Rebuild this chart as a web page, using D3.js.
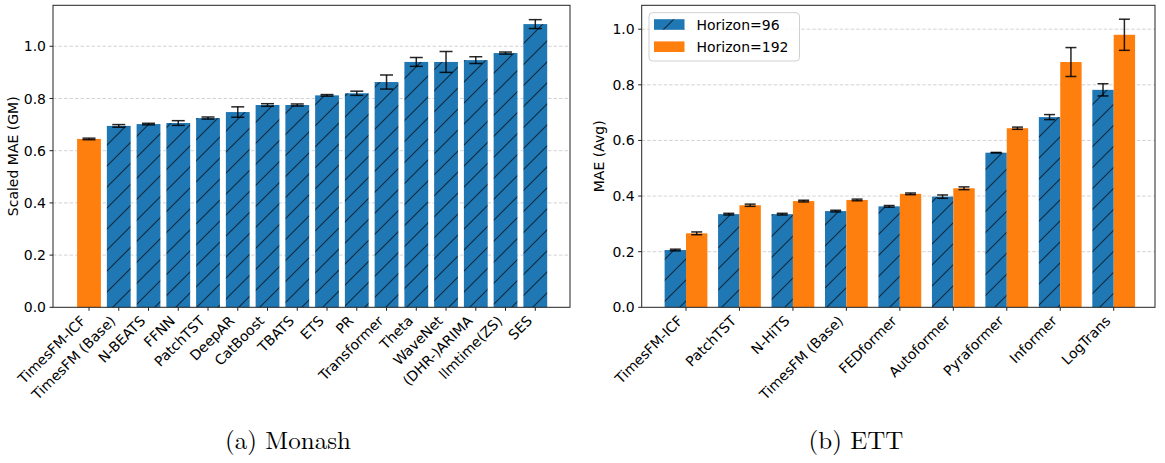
<!DOCTYPE html>
<html>
<head>
<meta charset="utf-8">
<script src="https://cdn.jsdelivr.net/npm/d3@7"></script>
<style>
  html, body { margin: 0; padding: 0; background: #fff; }
  svg { display: block; }
  text { font-family: "DejaVu Sans", sans-serif; fill: #000; }
</style>
</head>
<body>
<svg id="chart" width="1165" height="463"></svg>
<script>
// ---------- Data ----------
// (a) Monash
const monashModels = ["TimesFM-ICF", "TimesFM (Base)", "N-BEATS", "FFNN", "PatchTST", "DeepAR",
  "CatBoost", "TBATS", "ETS", "PR", "Transformer", "Theta", "WaveNet", "(DHR-)ARIMA", "llmtime(ZS)", "SES"];
const monashMAE = [0.645, 0.695, 0.702, 0.706, 0.725, 0.748, 0.775, 0.775, 0.812, 0.820, 0.863, 0.940, 0.940, 0.947, 0.974, 1.085];
const monashErr = [0.003, 0.005, 0.003, 0.009, 0.004, 0.020, 0.005, 0.004, 0.003, 0.008, 0.027, 0.017, 0.040, 0.013, 0.004, 0.017];
const monashTicks = [0.0, 0.2, 0.4, 0.6, 0.8, 1.0];

// (b) ETT
const ettModels = ["TimesFM-ICF", "PatchTST", "N-HiTS", "TimesFM (Base)", "FEDformer", "Autoformer",
  "Pyraformer", "Informer", "LogTrans"];
const ettH96 = [0.206, 0.335, 0.335, 0.346, 0.363, 0.398, 0.556, 0.684, 0.782];
const ettH96Err = [0.003, 0.003, 0.003, 0.003, 0.003, 0.006, 0.001, 0.009, 0.022];
const ettH192 = [0.266, 0.367, 0.382, 0.386, 0.408, 0.428, 0.644, 0.882, 0.980];
const ettH192Err = [0.005, 0.004, 0.003, 0.003, 0.003, 0.005, 0.004, 0.052, 0.056];
const ettTicks = [0.0, 0.2, 0.4, 0.6, 0.8, 1.0];
const seriesNames = ["Horizon=96", "Horizon=192"];

const BLUE = "#1f77b4", ORANGE = "#ff7f0e";
const FS = 14;

const svg = d3.select("#chart");
const defs = svg.append("defs");
const hatch = defs.append("pattern").attr("id", "hatch")
  .attr("patternUnits", "userSpaceOnUse").attr("width", 21).attr("height", 21);
hatch.append("rect").attr("width", 21).attr("height", 21).attr("fill", BLUE);
hatch.append("path").attr("d", "M-2,23 L23,-2 M-6,6 L6,-6 M15,27 L27,15")
  .attr("stroke", "#000").attr("stroke-opacity", 0.65).attr("stroke-width", 1.1);

function drawFrame(g, x0, x1, yScale, ticks, ylabel, ylabelX) {
  const [yb, yt] = yScale.range();
  // grid
  g.append("g").selectAll("line").data(ticks.filter(t => t > 0)).join("line")
    .attr("x1", x0).attr("x2", x1)
    .attr("y1", d => yScale(d)).attr("y2", d => yScale(d))
    .attr("stroke", "#c8c8c8").attr("stroke-width", 0.8).attr("stroke-dasharray", "3.5,2");
  // y ticks
  const yt_g = g.append("g");
  yt_g.selectAll("line").data(ticks).join("line")
    .attr("x1", x0 - 3.5).attr("x2", x0)
    .attr("y1", d => yScale(d)).attr("y2", d => yScale(d))
    .attr("stroke", "#222").attr("stroke-width", 1);
  yt_g.selectAll("text").data(ticks).join("text")
    .attr("x", x0 - 7).attr("y", d => yScale(d)).attr("dy", "0.36em")
    .attr("text-anchor", "end").attr("font-size", FS)
    .text(d => d3.format(".1f")(d));
  // y label
  g.append("text")
    .attr("transform", `translate(${ylabelX},${(yb + yt) / 2}) rotate(-90)`)
    .attr("dy", "0.36em").attr("text-anchor", "middle").attr("font-size", FS)
    .text(ylabel);
}
function drawBox(g, x0, x1, yt, yb) {
  g.append("rect").attr("x", x0).attr("y", yt).attr("width", x1 - x0).attr("height", yb - yt)
    .attr("fill", "none").attr("stroke", "#222").attr("stroke-width", 1);
}
function drawXTicks(g, labels, xScale, yb) {
  const gg = g.append("g");
  gg.selectAll("line").data(labels).join("line")
    .attr("x1", (d, i) => xScale(i)).attr("x2", (d, i) => xScale(i))
    .attr("y1", yb).attr("y2", yb + 3.5)
    .attr("stroke", "#222").attr("stroke-width", 1);
  gg.selectAll("text").data(labels).join("text")
    .attr("transform", (d, i) => `translate(${xScale(i) - 2.3},${yb + 7 + 7.5}) rotate(-45)`)
    .attr("text-anchor", "end").attr("font-size", FS)
    .text(d => d);
}
function errorBars(g, xs, ys, es, yScale, cap) {
  const eg = g.append("g").attr("stroke", "#000").attr("stroke-opacity", 0.85).attr("stroke-width", 1.5);
  ys.forEach((v, i) => {
    const x = xs[i], y1 = yScale(v - es[i]), y2 = yScale(v + es[i]);
    eg.append("line").attr("x1", x).attr("x2", x).attr("y1", y1).attr("y2", y2);
    eg.append("line").attr("x1", x - cap).attr("x2", x + cap).attr("y1", y1).attr("y2", y1);
    eg.append("line").attr("x1", x - cap).attr("x2", x + cap).attr("y1", y2).attr("y2", y2);
  });
}

// ---------- Panel (a) ----------
{
  const L = 53, R = 570, T = 5.3, B = 307.3;
  const g = svg.append("g");
  const x = d3.scaleLinear().domain([0, monashModels.length - 1]).range([89.0, 535.3]);
  const bw = (x(1) - x(0)) * 0.8;
  const y = d3.scaleLinear().domain([0, 1.157]).range([B, T]);
  drawFrame(g, L, R, y, monashTicks, "Scaled MAE (GM)", 12.5);
  g.append("g").selectAll("rect").data(monashMAE).join("rect")
    .attr("x", (d, i) => x(i) - bw / 2).attr("width", bw)
    .attr("y", d => y(d)).attr("height", d => B - y(d))
    .attr("fill", (d, i) => i === 0 ? ORANGE : "url(#hatch)");
  errorBars(g, monashMAE.map((d, i) => x(i)), monashMAE, monashErr, y, 6.5);
  drawBox(g, L, R, T, B);
  drawXTicks(g, monashModels, x, B);
  svg.append("text").attr("x", 288).attr("y", 449).attr("text-anchor", "middle")
    .attr("font-family", "'Latin Modern Roman','CMU Serif','Liberation Serif',serif")
    .style("font-family", "'Latin Modern Roman','CMU Serif','Liberation Serif',serif")
    .attr("font-size", 25).text("(a) Monash");
}

// ---------- Panel (b) ----------
{
  const L = 641.7, R = 1155, T = 5.3, B = 307.3;
  const g = svg.append("g");
  const x = d3.scaleLinear().domain([0, ettModels.length - 1]).range([686, 1113.7]);
  const step = x(1) - x(0);
  const bw = step * 0.4;
  const y = d3.scaleLinear().domain([0, 1.086]).range([B, T]);
  drawFrame(g, L, R, y, ettTicks, "MAE (Avg)", 599);
  g.append("g").selectAll("rect").data(ettH96).join("rect")
    .attr("x", (d, i) => x(i) - bw).attr("width", bw)
    .attr("y", d => y(d)).attr("height", d => B - y(d))
    .attr("fill", "url(#hatch)");
  g.append("g").selectAll("rect").data(ettH192).join("rect")
    .attr("x", (d, i) => x(i)).attr("width", bw)
    .attr("y", d => y(d)).attr("height", d => B - y(d))
    .attr("fill", ORANGE);
  errorBars(g, ettH96.map((d, i) => x(i) - bw / 2), ettH96, ettH96Err, y, 5.5);
  errorBars(g, ettH192.map((d, i) => x(i) + bw / 2), ettH192, ettH192Err, y, 5.5);
  drawBox(g, L, R, T, B);
  drawXTicks(g, ettModels, x, B);

  // legend
  const lg = g.append("g");
  lg.append("rect").attr("x", 649).attr("y", 12.7).attr("width", 150.5).attr("height", 48.3)
    .attr("rx", 3.5).attr("fill", "#fff").attr("fill-opacity", 0.8)
    .attr("stroke", "#d0d0d0").attr("stroke-width", 1);
  const rowsY = [24.5, 46.7];
  seriesNames.forEach((name, i) => {
    lg.append("rect").attr("x", 654).attr("y", rowsY[i] - 5.3).attr("width", 30.5).attr("height", 10.6)
      .attr("fill", i === 0 ? "url(#hatch)" : ORANGE);
    lg.append("text").attr("x", 696.5).attr("y", rowsY[i]).attr("dy", "0.36em")
      .attr("font-size", FS).text(name);
  });

  svg.append("text").attr("x", 856).attr("y", 449).attr("text-anchor", "middle")
    .style("font-family", "'Latin Modern Roman','CMU Serif','Liberation Serif',serif")
    .attr("font-size", 25).text("(b) ETT");
}
</script>
</body>
</html>
